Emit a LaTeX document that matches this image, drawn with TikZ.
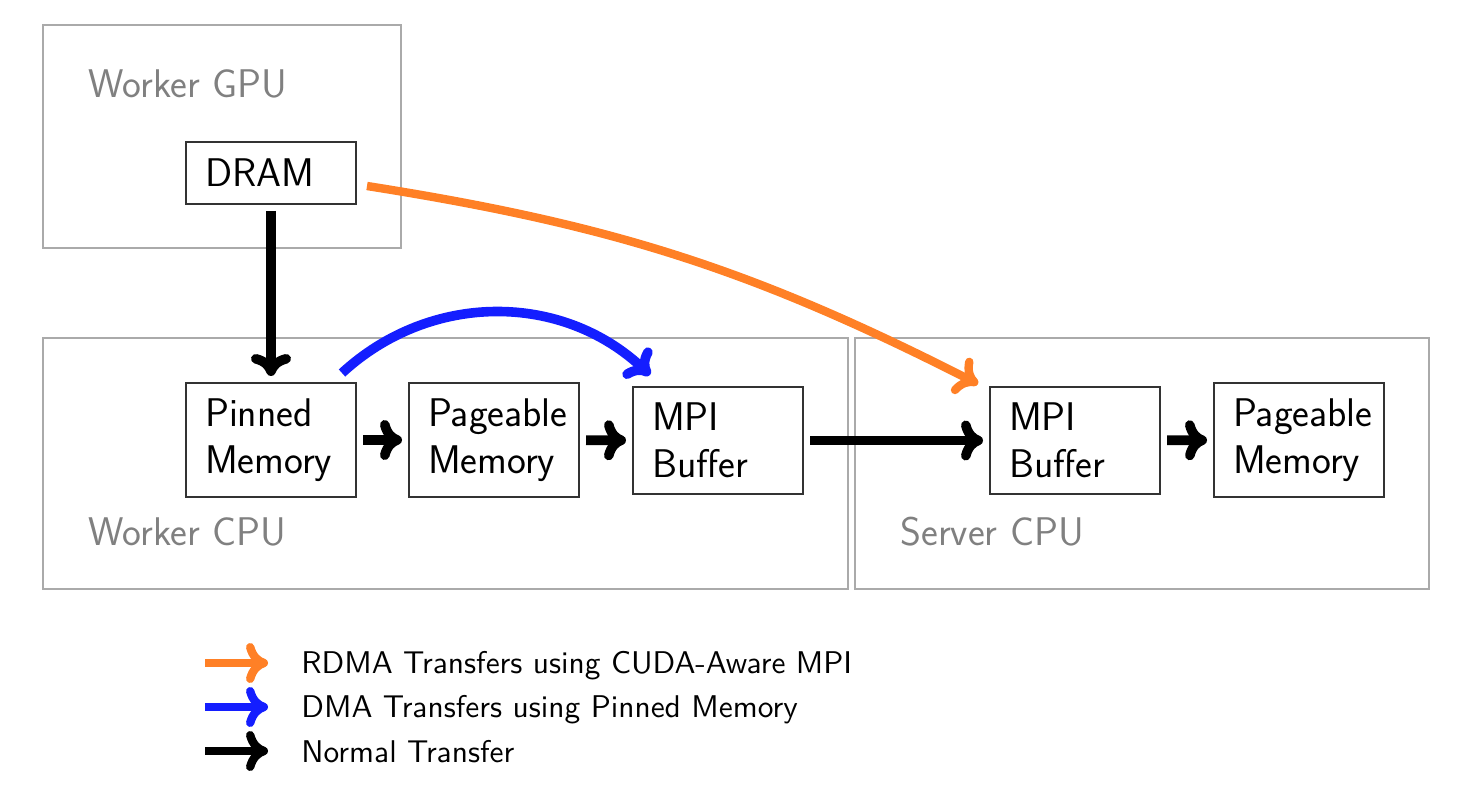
\documentclass[tikz,border=0pt]{standalone}
\usepackage{fontspec}
\usetikzlibrary{arrows.meta,calc}
\definecolor{myorange}{RGB}{255,128,38}
\definecolor{myblue}{RGB}{20,30,255}
\definecolor{boxgray}{RGB}{170,170,170}
\definecolor{labgray}{RGB}{128,128,128}
\font\legfont="[lmsans10-regular.otf]" at 15.7pt
\begin{document}
\begin{tikzpicture}[x=0.5pt,y=-0.5pt,
  font=\sffamily\fontsize{20}{23.5}\selectfont,
  container/.style={draw=boxgray,line width=0.75pt,inner sep=0pt},
  membox/.style={draw=black!80,line width=0.75pt,minimum width=85pt,text width=66pt,
    inner xsep=9.5pt,inner ysep=0pt,align=left,outer sep=3.5pt},
  grouplabel/.style={text=labgray,anchor=base west,inner sep=0pt},
  flow/.style={line width=4.8pt,-{Computer Modern Rightarrow[length=11pt,width=20pt,round]}},
  legendtext/.style={anchor=base west,inner sep=0pt,font=\legfont}]
\useasboundingbox (0,0) rectangle (1476,806);
% containers
\node[container,minimum width=179pt,minimum height=111.5pt] (wgpu) at (222,136.5) {};
\node[container,minimum width=402.5pt,minimum height=125.5pt] (wcpu) at (445.5,463.5) {};
\node[container,minimum width=287pt,minimum height=125.5pt] (scpu) at (1142,463.5) {};
\node[grouplabel] (lgpu) at (88,98) {Worker GPU};
\node[grouplabel] (lwcpu) at (88,545) {Worker CPU};
\node[grouplabel] (lscpu) at (900,545) {Server CPU};
% memory boxes
\node[membox,minimum height=31pt] (dram) at (271,173) {DRAM};
\node[membox,minimum height=57pt] (pin) at (271,440) {Pinned\\Memory};
\node[membox,minimum height=57pt] (page) at (494,440) {Pageable\\Memory};
\node[membox,minimum height=53.5pt] (mpi1) at (718,440.5) {MPI\\Buffer};
\node[membox,minimum height=53.5pt] (mpi2) at (1075,440.5) {MPI\\Buffer};
\node[membox,minimum height=57pt] (page2) at (1299,440) {Pageable\\Memory};
% black flows
\draw[flow] (dram) -- (pin);
\draw[flow] (pin) -- (page);
\draw[flow] (page) -- (mpi1);
\draw[flow] (mpi1) -- (mpi2);
\draw[flow] (mpi2) -- (page2);
% blue
\coordinate (bs) at ($(pin.north east)+(-21,-3)$);
\coordinate (be) at ($(mpi1.north west)+(24,-5)$);
\draw[flow,myblue] (bs) to[bend left=43] (be);
% orange
\coordinate (os) at ($(dram.east)+(4,13)$);
\coordinate (oe) at ($(mpi2.north west)+(-5,4)$);
\draw[flow,myorange,line width=4.2pt] (os) to[bend left=9] (oe);
% legend
\coordinate (la1) at (205,663); \coordinate (lb1) at (268,663);
\coordinate (la2) at (205,707); \coordinate (lb2) at (268,707);
\coordinate (la3) at (205,751); \coordinate (lb3) at (268,751);
\draw[flow,myorange,line width=4.2pt] (la1) -- (lb1);
\draw[flow,myblue,line width=4.2pt] (la2) -- (lb2);
\draw[flow,line width=4.2pt] (la3) -- (lb3);
\node[legendtext] (t1) at (301,673) {RDMA Transfers using CUDA-Aware MPI};
\node[legendtext] (t2) at (301,717) {DMA Transfers using Pinned Memory};
\node[legendtext] (t3) at (301,762) {Normal Transfer};
\end{tikzpicture}
\end{document}
